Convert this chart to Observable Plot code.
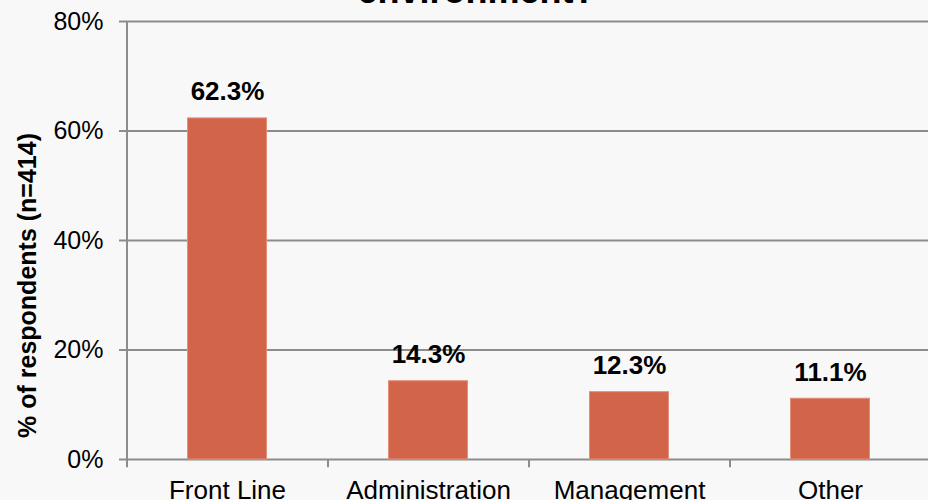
<!DOCTYPE html>
<html>
<head>
<meta charset="utf-8">
<script src="https://cdn.jsdelivr.net/npm/d3@7"></script>
<script src="https://cdn.jsdelivr.net/npm/@observablehq/plot@0.6"></script>
<style>
  html, body { margin: 0; padding: 0; background: #f8f8f8; overflow: hidden; }
  svg { display: block; font-family: "Liberation Sans", Arial, sans-serif; }
</style>
</head>
<body>
<div id="chart"></div>
<script>
const categories = ["Front Line", "Administration", "Management", "Other"];
const values = [62.3, 14.3, 12.3, 11.1];
const yTicks = [0, 20, 40, 60, 80];
const titleText = "environment?";
const yLabel = "% of respondents (n=414)";

const data = categories.map((c, i) => ({category: c, value: values[i]}));
const gridColor = "#8c8c8c";

const chart = Plot.plot({
  width: 928,
  height: 500,
  marginLeft: 127,
  marginRight: -3,
  marginTop: 21,
  marginBottom: 41,
  style: {background: "#f8f8f8", fontFamily: "'Liberation Sans', Arial, sans-serif", overflow: "visible"},
  x: {domain: categories, paddingInner: 0.6, paddingOuter: 0.3, label: null},
  y: {domain: [0, 80], label: null},
  marks: [
    Plot.ruleY(yTicks, {stroke: gridColor, strokeWidth: 2}),
    Plot.ruleX([categories[0]], {dx: -100.5, y1: 0, y2: 80, stroke: gridColor, strokeWidth: 2}),
    Plot.ruleX(categories, {x: d => d, dx: -100.5, y1: 0, y2: -1.5, stroke: gridColor, strokeWidth: 2}),
    Plot.ruleX([categories[categories.length - 1]], {dx: 100.5, y1: 0, y2: -1.5, stroke: gridColor, strokeWidth: 2}),
    Plot.barY(data, {x: "category", y: "value", fill: "#d2644a", stroke: "#e48f7a", strokeWidth: 1, insetLeft: 0.5, insetRight: 0.5}),
    Plot.text(data, {x: "category", y: "value", text: d => d.value.toFixed(1) + "%", lineAnchor: "bottom", dy: -18, fontSize: 26, fontWeight: "bold", fill: "#000"}),
    Plot.axisY({ticks: yTicks, tickFormat: d => d + "%", tickSize: 8, tickPadding: 16, fontSize: 25, stroke: gridColor, strokeWidth: 2, color: "#000", label: null}),
    Plot.axisX({tickSize: 0, tickPadding: 21, fontSize: 26, color: "#000", label: null}),
    Plot.text([titleText], {frameAnchor: "top", dx: -53, dy: -19, lineAnchor: "bottom", fontSize: 36, fontWeight: "bold", fill: "#000"}),
    Plot.text([yLabel], {frameAnchor: "left", textAnchor: "middle", rotate: -90, dx: -100, dy: 45, fontSize: 25, fontWeight: "bold", fill: "#000"})
  ]
});
document.getElementById("chart").appendChild(chart);
</script>
</body>
</html>
